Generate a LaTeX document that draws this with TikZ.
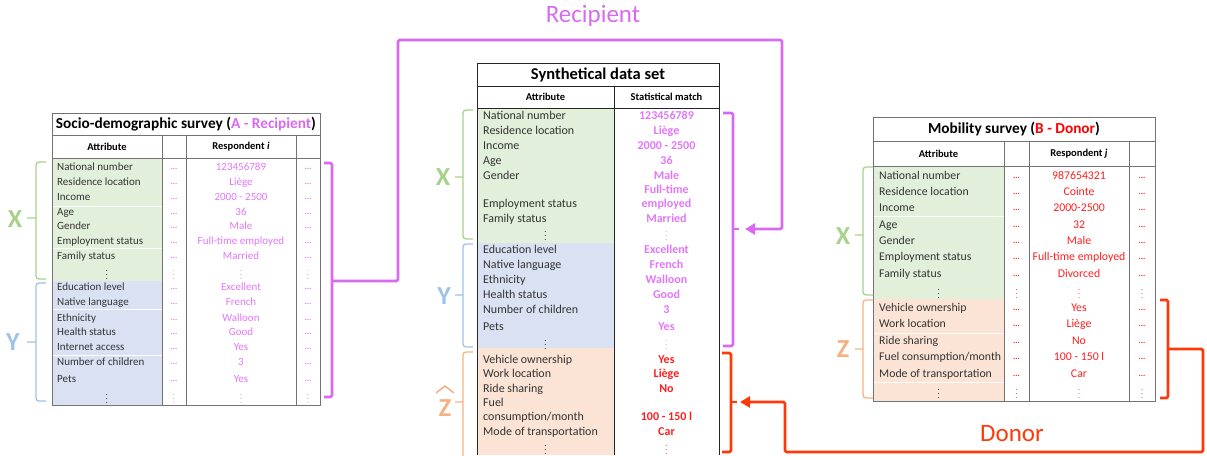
\documentclass[tikz,border=0pt]{standalone}
\usepackage{fontspec}
\setmainfont{Carlito}
\usepackage{tikz}
\usetikzlibrary{arrows.meta}
\usetikzlibrary{positioning}

\definecolor{recip}{RGB}{216,106,242}
\definecolor{recipval}{RGB}{226,118,250}
\definecolor{donor}{RGB}{255,56,10}
\definecolor{donorval}{RGB}{255,30,30}
\definecolor{xfill}{RGB}{226,239,218}
\definecolor{yfill}{RGB}{217,225,242}
\definecolor{zfill}{RGB}{251,228,214}
\definecolor{xcol}{RGB}{169,209,142}
\definecolor{ycol}{RGB}{157,195,230}
\definecolor{zcol}{RGB}{244,177,131}

\tikzset{
  attr/.style={anchor=west, inner sep=0pt, text height=7.8pt, text depth=2.4pt, text=black!80, font=\fontsize{11}{12}\selectfont},
  val/.style={inner sep=0pt, text height=7.8pt, text depth=2.4pt, font=\fontsize{11}{12}\selectfont},
  dotcell/.style={inner sep=0pt, font=\bfseries\fontsize{8.5}{9}\selectfont},
  vdot/.style={inner sep=0pt, font=\fontsize{8}{9}\selectfont},
  ttl/.style={inner sep=0pt, font=\bfseries\fontsize{15.3}{17}\selectfont},
  hdr/.style={inner sep=0pt, font=\bfseries\fontsize{10.5}{12}\selectfont},
  tbl/.style={draw=black!55, line width=0.8pt},
  sep/.style={draw=white, line width=0.9pt},
  brace/.style={line width=1.3pt, rounded corners=3pt},
  setlbl/.style={inner sep=0pt, font=\bfseries\fontsize{26}{28}\selectfont},
  link/.style={line width=2.6pt, rounded corners=1.5pt},
  flow/.style={inner sep=0pt, font=\fontsize{25}{28}\selectfont}
}

\begin{document}
\begin{tikzpicture}[x=1pt,y=-1pt]
  \useasboundingbox (0,0) rectangle (1207,455);

  % socio-demographic survey (A)
  \fill[xfill] (52,158) rectangle (162,281);
  \fill[yfill] (52,281) rectangle (162,405);
  \foreach \yy in {206,248,309,355} \draw[sep] (52,\yy) -- (162,\yy);
  \draw[tbl] (52,113) rectangle (320,405);
  \draw[tbl] (52,135) -- (320,135) (52,158) -- (320,158);
  \foreach \xx in {162,186,296} \draw[tbl] (\xx,135) -- (\xx,405);
  \node[ttl] (titleA) at (186,124) {Socio-demographic survey (\textcolor{recip}{A - Recipient})};
  \node[hdr] (attrA) at (107,146.5) {Attribute};
  \node[hdr] (respA) at (241,146.5) {Respondent \textit{i}};
  \foreach \yy/\aa/\vv in {168/National number/123456789, 183/Residence location/Liège,
      198/Income/2000 - 2500, 213/Age/36, 227/Gender/Male, 242/Employment status/Full-time employed,
      257/Family status/Married, 288/Education level/Excellent, 303/Native language/French,
      319/Ethnicity/Walloon, 333/Health status/Good, 348/Internet access/Yes,
      363/Number of children/3, 380/Pets/Yes}{
    \node[attr] (A-a\yy) at (57,\yy) {\aa};
    \node[val,text=recipval] (A-v\yy) at (241,\yy) {\vv};
    \node[dotcell,text=recipval] (A-l\yy) at (174,\yy+1) {...};
    \node[dotcell,text=recipval] (A-r\yy) at (308,\yy+1) {...};
  }
  \foreach \yy in {272,396}{
    \node[vdot] (A-d\yy) at (107,\yy) {$\vdots$};
    \node[vdot,text=recipval] (A-e\yy) at (174,\yy) {$\vdots$};
    \node[vdot,text=recipval] (A-f\yy) at (241,\yy) {$\vdots$};
    \node[vdot,text=recipval] (A-g\yy) at (308,\yy) {$\vdots$};
  }
  \draw[brace,xcol] (46,162) -- (36,162) -- (36,279) -- (46,279) (36,218) -- (27,218);
  \draw[brace,ycol] (46,283) -- (36,283) -- (36,401) -- (46,401) (36,342) -- (27,342);
  \node[setlbl,text=xcol] (XA) at (15,219) {X};
  \node[setlbl,text=ycol] (YA) at (13,342) {Y};

  % synthetical data set
  \fill[xfill] (477,108) rectangle (614,243);
  \fill[yfill] (477,243) rectangle (614,348);
  \fill[zfill] (477,348) rectangle (614,455);
  \draw[tbl,draw=black!85] (477,455) -- (477,63) -- (719,63) -- (719,455);
  \draw[tbl,draw=black!85] (477,86) -- (719,86) (477,108) -- (719,108) (614,86) -- (614,455);
  \node[ttl,font=\bfseries\fontsize{16.5}{18}\selectfont] (titleS) at (598,75) {Synthetical data set};
  \node[hdr] (attrS) at (545.5,97) {Attribute};
  \node[hdr] (matchS) at (666.5,97) {Statistical match};
  \foreach \yy/\aa/\vv in {117/National number/123456789, 132/Residence location/Liège,
      147/Income/2000 - 2500, 162/Age/36, 177/Gender/Male, 220/Family status/Married,
      251/Education level/Excellent, 266/Native language/French, 281/Ethnicity/Walloon,
      296/Health status/Good, 311/Number of children/3, 328/Pets/Yes}{
    \node[attr,font=\fontsize{12}{13}\selectfont] (S-a\yy) at (483,\yy) {\aa};
    \node[val,text=recipval,font=\bfseries\fontsize{12}{13}\selectfont] (S-v\yy) at (666.5,\yy) {\vv};
  }
  \node[attr,font=\fontsize{12}{13}\selectfont] (S-a205) at (483,205) {Employment status};
  \node[val,text=recipval,font=\bfseries\fontsize{12}{13}\selectfont] (S-v191) at (666.5,191) {Full-time};
  \node[val,text=recipval,font=\bfseries\fontsize{12}{13}\selectfont] (S-v205) at (666.5,205) {employed};
  \foreach \yy/\aa/\vv in {361/Vehicle ownership/Yes, 375/Work location/Liège, 390/Ride sharing/No,
      418/consumption{/}month/100 - 150 l, 433/Mode of transportation/Car}{
    \node[attr,font=\fontsize{12}{13}\selectfont] (S-a\yy) at (483,\yy) {\aa};
    \node[val,text=donorval,font=\bfseries\fontsize{12}{13}\selectfont] (S-v\yy) at (666.5,\yy) {\vv};
  }
  \node[attr,font=\fontsize{12}{13}\selectfont] (S-a404) at (483,404) {Fuel};
  \foreach \yy/\cc in {233/recipval,342/recipval,447/donorval}{
    \node[vdot] (S-d\yy) at (545.5,\yy) {$\vdots$};
    \node[vdot,text=\cc] (S-e\yy) at (666.5,\yy) {$\vdots$};
  }
  \draw[brace,xcol] (473,110) -- (463,110) -- (463,239) -- (473,239) (463,177) -- (455,177);
  \draw[brace,ycol] (473,244) -- (463,244) -- (463,347) -- (473,347) (463,295) -- (455,295);
  \draw[brace,zcol] (473,352) -- (463,352) -- (463,462) (463,402) -- (455,402);
  \node[setlbl,text=xcol] (XS) at (443,177) {X};
  \node[setlbl,text=ycol] (YS) at (444,296) {Y};
  \node[setlbl,text=zcol] (ZS) at (445,408) {Z};
  \draw[zcol,line width=1.6pt,line join=round] (436,393) -- (445,386) -- (454,393);

  % mobility survey (B)
  \fill[xfill] (873,166) rectangle (1004,299);
  \fill[zfill] (873,299) rectangle (1004,401);
  \foreach \yy in {216,333,382} \draw[sep] (873,\yy) -- (1004,\yy);
  \draw[tbl] (873,117) rectangle (1155,401);
  \draw[tbl] (873,141) -- (1155,141) (873,166) -- (1155,166);
  \foreach \xx in {1004,1029,1129} \draw[tbl] (\xx,141) -- (\xx,401);
  \node[ttl] (titleB) at (1014,129) {Mobility survey (\textcolor{red}{B - Donor})};
  \node[hdr] (attrB) at (938.5,153.5) {Attribute};
  \node[hdr] (respB) at (1079,153.5) {Respondent \textit{j}};
  \foreach \yy/\aa/\vv in {177/National number/987654321, 193/Residence location/Cointe,
      209/Income/2000-2500, 226/Age/32, 242/Gender/Male, 258/Employment status/Full-time employed,
      275/Family status/Divorced, 309/Vehicle ownership/Yes, 325/Work location/Liège,
      342/Ride sharing/No, 358/Fuel consumption{/}month/100 - 150 l, 375/Mode of transportation/Car}{
    \node[attr,font=\fontsize{11.8}{13}\selectfont] (B-a\yy) at (879,\yy) {\aa};
    \node[val,text=donorval,font=\fontsize{11.8}{13}\selectfont] (B-v\yy) at (1079,\yy) {\vv};
    \node[dotcell,text=donorval] (B-l\yy) at (1016.5,\yy+1) {...};
    \node[dotcell,text=donorval] (B-r\yy) at (1142,\yy+1) {...};
  }
  \foreach \yy in {291,391}{
    \node[vdot] (B-d\yy) at (938.5,\yy) {$\vdots$};
    \node[vdot,text=donorval] (B-e\yy) at (1016.5,\yy) {$\vdots$};
    \node[vdot,text=donorval] (B-f\yy) at (1079,\yy) {$\vdots$};
    \node[vdot,text=donorval] (B-g\yy) at (1142,\yy) {$\vdots$};
  }
  \draw[brace,xcol] (873,167) -- (863,167) -- (863,295) -- (873,295) (863,235) -- (855,235);
  \draw[brace,zcol] (873,300) -- (863,300) -- (863,398) -- (873,398) (863,349) -- (855,349);
  \node[setlbl,text=xcol] (XB) at (843,236) {X};
  \node[setlbl,text=zcol] (ZB) at (843,349) {Z};

  % recipient link
  \coordinate (recA) at (332,281);
  \coordinate (recS) at (733,229);
  \draw[link,recip] (324,163) -- (332,163) -- (332,397) -- (324,397);
  \draw[link,recip] (723,113) -- (733,113) -- (733,346) -- (723,346);
  \draw[link,recip,-{Triangle[length=10pt,width=11pt]}] (recA) -| (398,40) -| (782,229) -- ([xshift=12pt]recS);
  \draw[link,recip] (recS) -- ++(6,0);
  \node[flow,text=recip] (recipient) at (593,16) {Recipient};

  % donor link
  \coordinate (donB) at (1168,349);
  \coordinate (donS) at (731,402);
  \draw[link,donor] (1160,300) -- (1168,300) -- (1168,398) -- (1160,398);
  \draw[link,donor] (722,353) -- (731,353) -- (731,452) -- (722,452);
  \draw[link,donor,-{Triangle[length=10pt,width=11pt]}] (donB) -| (1203,452) -| (785,402) -- ([xshift=9pt]donS);
  \draw[link,donor] (donS) -- ++(6,0);
  \node[flow,text=donor] (donor) at (1012,434) {Donor};
\end{tikzpicture}
\end{document}
